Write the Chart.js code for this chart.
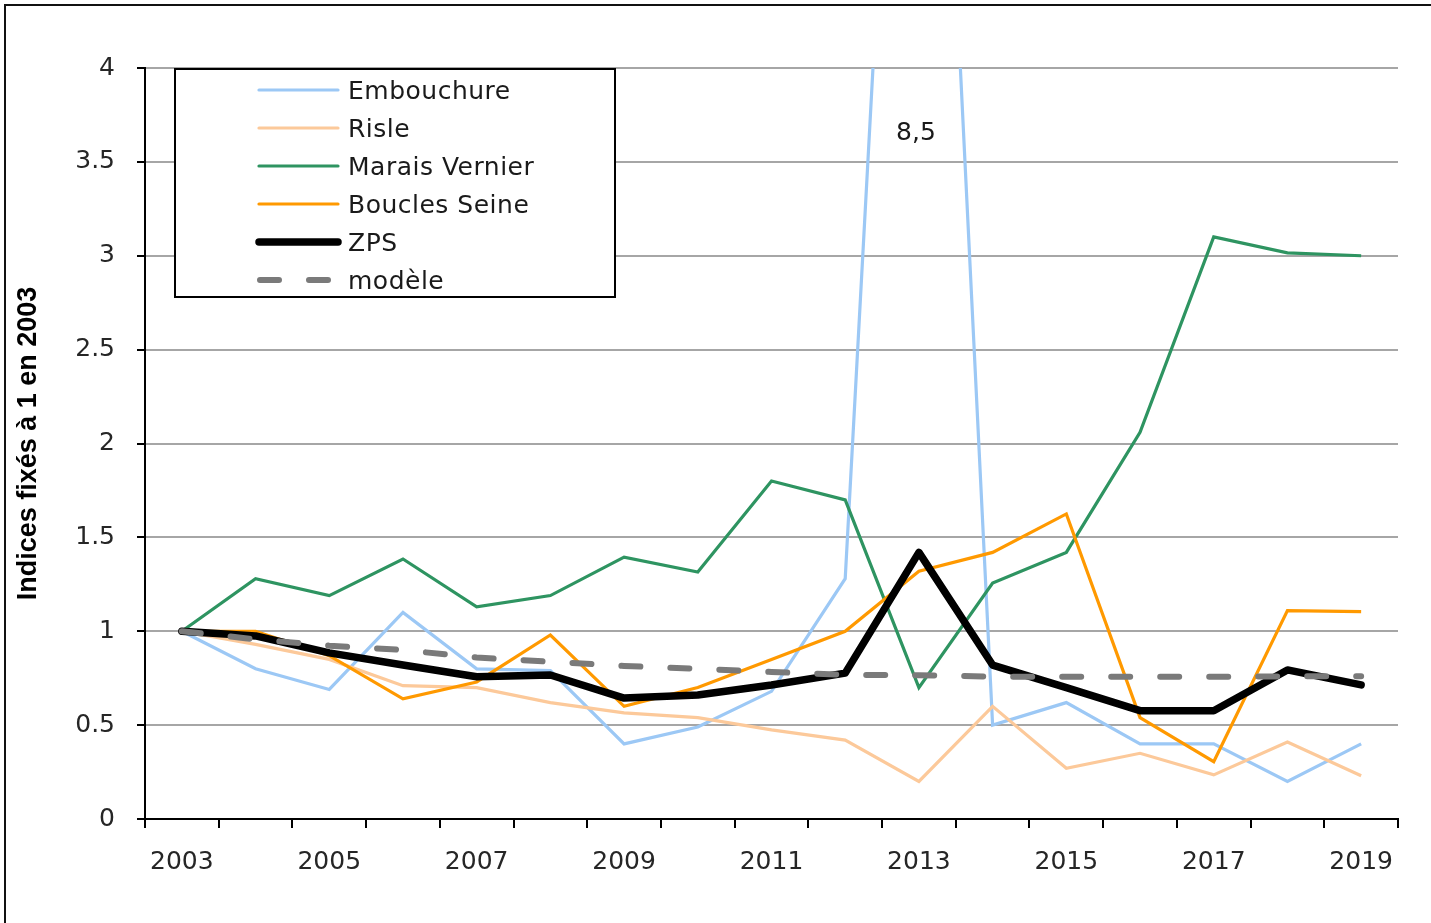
<!DOCTYPE html>
<html><head><meta charset="utf-8">
<script src="https://cdn.jsdelivr.net/npm/chart.js@4/dist/chart.umd.min.js"></script>
<style>html,body{margin:0;padding:0;background:#fff;}canvas{display:block;}</style>
</head><body>
<canvas id="c" width="1431" height="923"></canvas>
<script>
const years = ['2003','2004','2005','2006','2007','2008','2009','2010','2011','2012','2013','2014','2015','2016','2017','2018','2019'];
const xTickLabels = ['2003','','2005','','2007','','2009','','2011','','2013','','2015','','2017','','2019'];
const yTickLabels = ['0','0.5','1','1.5','2','2.5','3','3.5','4'];
const embouchure = [1.0, 0.80, 0.69, 1.10, 0.80, 0.79, 0.40, 0.49, 0.68, 1.28, 8.5, 0.50, 0.62, 0.40, 0.40, 0.20, 0.40];
const risle      = [1.0, 0.93, 0.85, 0.71, 0.70, 0.62, 0.565, 0.54, 0.475, 0.42, 0.20, 0.60, 0.27, 0.35, 0.235, 0.41, 0.23];
const marais     = [1.0, 1.28, 1.19, 1.385, 1.13, 1.19, 1.395, 1.315, 1.80, 1.70, 0.70, 1.257, 1.42, 2.06, 3.10, 3.015, 3.0];
const boucles    = [1.0, 1.0, 0.87, 0.64, 0.73, 0.98, 0.60, 0.70, 0.85, 1.00, 1.32, 1.42, 1.625, 0.54, 0.305, 1.11, 1.105];
const zps        = [1.0, 0.975, 0.885, 0.82, 0.758, 0.767, 0.644, 0.66, 0.714, 0.777, 1.42, 0.82, 0.70, 0.577, 0.577, 0.794, 0.714];
const modele     = [1.0, 0.957, 0.923, 0.90, 0.86, 0.838, 0.815, 0.80, 0.783, 0.768, 0.766, 0.758, 0.757, 0.757, 0.757, 0.76, 0.76];
const seriesNames = ['Embouchure','Risle','Marais Vernier','Boucles Seine','ZPS','modèle'];
const peakLabel = '8,5';

const frame = {
  id:'frame',
  beforeDraw(chart){
    const ctx = chart.ctx;
    ctx.save();
    ctx.fillStyle = '#fff';
    ctx.fillRect(0,0,chart.width,chart.height);
    ctx.strokeStyle = '#111';
    ctx.lineWidth = 2;
    ctx.strokeRect(5,5,1440,940);
    ctx.restore();
  }
};

const boxLegend = {
  id:'boxLegend',
  afterDraw(chart){
    const ctx = chart.ctx;
    ctx.save();
    ctx.fillStyle = '#fff';
    ctx.fillRect(175,69,440,228);
    ctx.strokeStyle = '#000';
    ctx.lineWidth = 2;
    ctx.strokeRect(175,69,440,228);
    ctx.font = '25px "DejaVu Sans"';
    try { ctx.letterSpacing = '0.5px'; } catch(e) {}
    ctx.textBaseline = 'middle';
    ctx.textAlign = 'left';
    chart.data.datasets.forEach((ds, i) => {
      const y = 90 + i*38;
      ctx.save();
      ctx.strokeStyle = ds.borderColor;
      ctx.lineWidth = ds.borderWidth;
      ctx.lineCap = 'round';
      ctx.setLineDash(ds.borderDash || []);
      ctx.beginPath();
      const x0 = ds.borderDash ? 260 : 259;
      ctx.moveTo(x0, y);
      ctx.lineTo(338, y);
      ctx.stroke();
      ctx.restore();
      ctx.fillStyle = '#1a1a1a';
      ctx.fillText(ds.label, 348, y + 2);
    });
    ctx.restore();
  }
};

const peak = {
  id:'peak',
  afterDraw(chart){
    const ctx = chart.ctx;
    const xs = chart.scales.x, ys = chart.scales.y;
    ctx.save();
    ctx.font = '25px "DejaVu Sans"';
    ctx.fillStyle = '#1a1a1a';
    ctx.textAlign = 'center';
    ctx.textBaseline = 'middle';
    ctx.fillText(peakLabel, xs.getPixelForValue(10) - 3, ys.getPixelForValue(3.65));
    ctx.restore();
  }
};

const tickFont = {family:'DejaVu Sans', size:25};

new Chart(document.getElementById('c'), {
  type:'line',
  data:{
    labels: years,
    datasets:[
      {label:seriesNames[0], data:embouchure, borderColor:'#9cc8f5', borderWidth:3.2, order:5},
      {label:seriesNames[1], data:risle, borderColor:'#fcc99a', borderWidth:3.2, order:4},
      {label:seriesNames[2], data:marais, borderColor:'#2e9461', borderWidth:3.2, order:3},
      {label:seriesNames[3], data:boucles, borderColor:'#ff9900', borderWidth:3.2, order:2},
      {label:seriesNames[4], data:zps, borderColor:'#000000', borderWidth:7.5, borderJoinStyle:'round', borderCapStyle:'round', order:1},
      {label:seriesNames[5], data:modele, borderColor:'#7a7a7a', borderWidth:6, borderDash:[19,30], borderCapStyle:'round', order:0}
    ]
  },
  options:{
    responsive:false,
    animation:false,
    devicePixelRatio:1,
    layout:{padding:{left:0, top:68, right:33, bottom:0}},
    elements:{point:{radius:0, hoverRadius:0}, line:{tension:0, fill:false}},
    plugins:{legend:{display:false}, tooltip:{enabled:false}},
    scales:{
      x:{
        type:'category',
        offset:true,
        grid:{offset:true, drawOnChartArea:false, tickLength:9, color:'#000', tickColor:'#000', lineWidth:2},
        border:{display:true, color:'#000', width:2},
        ticks:{autoSkip:false, maxRotation:0, minRotation:0, padding:19, font:tickFont, color:'#262626',
          callback:(v,i)=>xTickLabels[i]},
        afterFit:(s)=>{ s.height = 104; }
      },
      y:{
        type:'linear',
        min:0, max:4,
        grid:{color:'#a6a6a6', lineWidth:2, tickColor:'#000', tickLength:8},
        border:{display:true, color:'#000', width:2},
        ticks:{stepSize:0.5, padding:22, font:tickFont, color:'#262626',
          callback:(v,i)=>yTickLabels[i]},
        title:{display:true, text:'Indices fixés à 1 en 2003', color:'#000',
          font:{family:'Liberation Sans', weight:'bold', size:27}, padding:{top:12, bottom:0}},
        afterFit:(s)=>{ s.width = 145; }
      }
    }
  },
  plugins:[frame, boxLegend, peak]
});
</script>
</body></html>
